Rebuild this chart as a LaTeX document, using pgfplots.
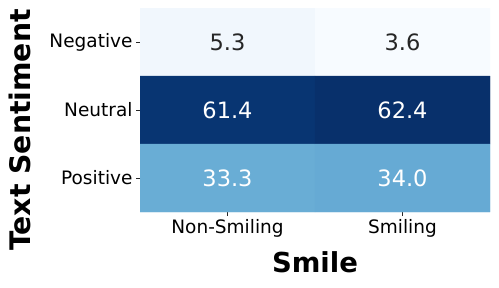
\documentclass[border=0pt]{standalone}
\usepackage{fontspec}
\setmainfont{DejaVu Sans}
\usepackage{pgfplots}
\usepackage{pgfplotstable}
\pgfplotsset{compat=1.18}
\definecolor{txtdark}{HTML}{262626}
\pgfplotstableread{
x y v
0 0 5.3
1 0 3.6
0 1 61.4
1 1 62.4
0 2 33.3
1 2 34.0
}\heat
\pgfplotstableread{
x y lab
0 0 5.3
1 0 3.6
}\lightcells
\pgfplotstableread{
x y lab
0 1 61.4
1 1 62.4
0 2 33.3
1 2 34.0
}\darkcells
\begin{document}
\begin{tikzpicture}[x=1bp,y=1bp]
\path[use as bounding box] (0,0) rectangle (499,287);
\begin{axis}[
  at={(140bp,75bp)}, anchor=south west,
  scale only axis, width=350bp, height=204bp,
  xmin=-0.5, xmax=1.5, ymin=-0.5, ymax=2.5,
  y dir=reverse, enlargelimits=false,
  axis x line*=bottom, axis y line*=left,
  axis line style={draw=none},
  xtick={0,1}, xticklabels={Non-Smiling,Smiling},
  ytick={0,1,2}, yticklabels={Negative,Neutral,Positive},
  tick align=outside, major tick length=4bp,
  tick style={color=txtdark, line width=0.8bp},
  ticklabel style={font=\fontsize{18.5bp}{22bp}\selectfont, text=black},
  colormap={blues}{rgb255=(247,251,255) rgb255=(222,235,247) rgb255=(198,219,239) rgb255=(158,202,225) rgb255=(107,174,214) rgb255=(66,146,198) rgb255=(33,113,181) rgb255=(8,81,156) rgb255=(8,48,107)},
  point meta min=3.6, point meta max=62.4,
]
\addplot[matrix plot*, mesh/cols=2, point meta=explicit] table[x=x,y=y,meta=v] {\heat};
\addplot[only marks, mark size=0pt, nodes near coords, nodes near coords align=center,
  point meta=explicit symbolic,
  every node near coord/.append style={font=\fontsize{22.5bp}{26bp}\selectfont, text=txtdark, anchor=center}]
  table[x=x,y=y,meta=lab] {\lightcells};
\addplot[only marks, mark size=0pt, nodes near coords, nodes near coords align=center,
  point meta=explicit symbolic,
  every node near coord/.append style={font=\fontsize{22.5bp}{26bp}\selectfont, text=white, anchor=center}]
  table[x=x,y=y,meta=lab] {\darkcells};
\end{axis}
\node[anchor=base, rotate=90, font=\fontsize{28.3bp}{32bp}\selectfont\bfseries] at (30,157) {Text Sentiment};
\node[anchor=base, font=\fontsize{27.5bp}{32bp}\selectfont\bfseries] at (315,15) {Smile};
\end{tikzpicture}
\end{document}
